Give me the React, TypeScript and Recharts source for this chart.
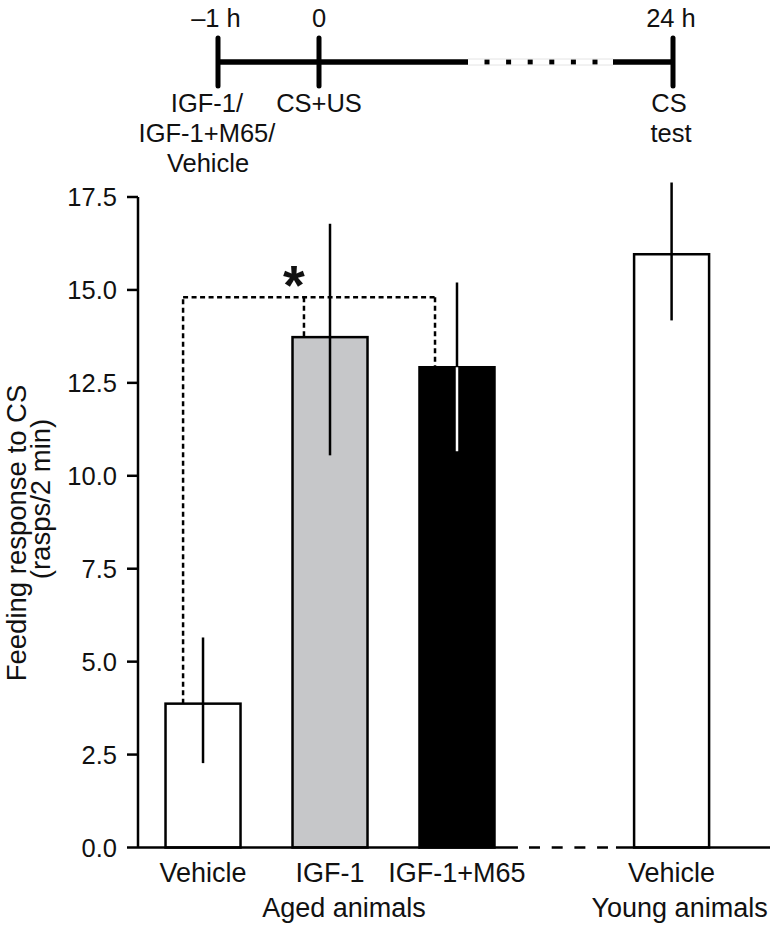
import React from 'react';
import { BarChart, Bar, XAxis, YAxis, ReferenceLine } from 'recharts';

// ---- data ----
const categories = ['Vehicle', 'IGF-1', 'IGF-1+M65', 'Vehicle'];
const groupLabels = ['', 'Aged animals', '', 'Young animals'];
const slots = [1, 2, 3, 4.69]; // category slots along the x axis (young group set apart)
const means = [3.87, 13.73, 12.92, 15.96];
const errLow = [2.27, 10.55, 10.66, 14.18];
const errHigh = [5.65, 16.78, 15.2, 17.89];
const yTicks = [0, 2.5, 5, 7.5, 10, 12.5, 15, 17.5];
const sigLevel = 14.8;

// ---- styles ----
const fills = ['#ffffff', '#c6c7c9', '#000000', '#ffffff'];
const FONT = '"Liberation Sans", Arial, Helvetica, sans-serif';
const X_MIN = 0.488;
const X_MAX = 5.465;

const data = categories.map((c, i) => ({
  pos: slots[i],
  name: c,
  value: means[i],
  lo: errLow[i],
  hi: errHigh[i],
}));

const BarShape = (props: any) => {
  const { x, y, width, height, payload, index } = props;
  const pxPer = height / payload.value;
  const base = y + height;
  const yHi = base - payload.hi * pxPer;
  const yLo = base - payload.lo * pxPer;
  const cx = x + width / 2;
  const fill = fills[index];
  const dark = fill === '#000000';
  return (
    <g>
      <rect x={x} y={y} width={width} height={height} fill={fill} stroke="#000" strokeWidth={2.5} />
      <line x1={cx} x2={cx} y1={yHi} y2={y} stroke="#000" strokeWidth={2.5} />
      <line x1={cx} x2={cx} y1={y} y2={yLo} stroke={dark ? '#fff' : '#000'} strokeWidth={2.5} />
    </g>
  );
};

const XTick = (props: any) => {
  const { x, y, payload } = props;
  const i = slots.indexOf(payload.value);
  if (i < 0) return null;
  const gOff = i === 1 ? 14 : 8;
  return (
    <g>
      <text x={x} y={y + 34.5} textAnchor="middle" fontSize={27} fontFamily={FONT} fill="#111">
        {categories[i]}
      </text>
      {groupLabels[i] ? (
        <text x={x + gOff} y={y + 69.5} textAnchor="middle" fontSize={27} fontFamily={FONT} fill="#111">
          {groupLabels[i]}
        </text>
      ) : null}
    </g>
  );
};

const dash = '5 3.5';
const lineW = 2.5;

export default function App() {
  return (
    <div style={{ position: 'absolute', left: 0, top: 0, width: 770, height: 925, background: '#fff' }}>
      <BarChart
        width={770}
        height={925}
        data={data}
        margin={{ top: 197, right: 0, bottom: 17.5, left: 0 }}
      >
        <XAxis
          type="number"
          dataKey="pos"
          domain={[X_MIN, X_MAX]}
          ticks={slots}
          height={60}
          axisLine={false}
          tickLine={false}
          tickSize={0}
          tickMargin={0}
          tick={<XTick />}
          interval={0}
        />
        <YAxis
          type="number"
          domain={[0, 17.5]}
          ticks={yTicks}
          tickFormatter={(v: number) => v.toFixed(1)}
          width={138}
          tickSize={11}
          tickMargin={10}
          axisLine={{ stroke: '#000', strokeWidth: lineW }}
          tickLine={{ stroke: '#000', strokeWidth: lineW }}
          tick={{ fill: '#111', fontSize: 25.5, fontFamily: FONT }}
          interval={0}
        />
        <Bar dataKey="value" barSize={75} shape={<BarShape />} isAnimationActive={false} />
        {/* x axis with break */}
        <ReferenceLine
          segment={[{ x: X_MIN, y: 0 }, { x: 3.48, y: 0 }]}
          stroke="#000"
          strokeWidth={lineW}
        />
        <ReferenceLine
          segment={[{ x: 3.567, y: 0 }, { x: 4.189, y: 0 }]}
          stroke="#000"
          strokeWidth={lineW}
          strokeDasharray="11 11.7"
        />
        <ReferenceLine
          segment={[{ x: 4.252, y: 0 }, { x: X_MAX, y: 0 }]}
          stroke="#000"
          strokeWidth={lineW}
        />
        {/* significance bracket */}
        <ReferenceLine
          segment={[{ x: slots[0] - 0.157, y: means[0] }, { x: slots[0] - 0.157, y: sigLevel }]}
          stroke="#000"
          strokeWidth={lineW}
          strokeDasharray={dash}
        />
        <ReferenceLine
          segment={[{ x: slots[0] - 0.157, y: sigLevel }, { x: slots[2] - 0.173, y: sigLevel }]}
          stroke="#000"
          strokeWidth={lineW}
          strokeDasharray={dash}
        />
        <ReferenceLine
          segment={[{ x: slots[1] - 0.205, y: sigLevel }, { x: slots[1] - 0.205, y: means[1] }]}
          stroke="#000"
          strokeWidth={lineW}
          strokeDasharray={dash}
        />
        <ReferenceLine
          segment={[{ x: slots[2] - 0.173, y: sigLevel }, { x: slots[2] - 0.173, y: means[2] }]}
          stroke="#000"
          strokeWidth={lineW}
          strokeDasharray={dash}
        />
      </BarChart>

      <svg
        width={770}
        height={925}
        style={{ position: 'absolute', left: 0, top: 0, pointerEvents: 'none' }}
        fontFamily={FONT}
        fill="#111"
      >
        {/* timeline */}
        <line x1={218} x2={468} y1={62} y2={62} stroke="#000" strokeWidth={5.5} />
        <line x1={613} x2={673} y1={62} y2={62} stroke="#000" strokeWidth={5.5} />
        <line x1={484.5} x2={597.5} y1={62} y2={62} stroke="#000" strokeWidth={5.5} strokeDasharray="5 16.6" />
        <line x1={468} x2={613} y1={59} y2={59} stroke="#e4e4e4" strokeWidth={1} />
        <line x1={468} x2={613} y1={65} y2={65} stroke="#e4e4e4" strokeWidth={1} />
        <line x1={218} x2={218} y1={38} y2={86} stroke="#000" strokeWidth={5} strokeLinecap="round" />
        <line x1={319} x2={319} y1={38} y2={86} stroke="#000" strokeWidth={5} strokeLinecap="round" />
        <line x1={673} x2={673} y1={38} y2={86} stroke="#000" strokeWidth={5} strokeLinecap="round" />
        <text x={216} y={27} textAnchor="middle" fontSize={25.5}>–1 h</text>
        <text x={319} y={27} textAnchor="middle" fontSize={25.5}>0</text>
        <text x={671} y={27} textAnchor="middle" fontSize={25.5}>24 h</text>
        <text x={207} y={112} textAnchor="middle" fontSize={25.5}>IGF-1/</text>
        <text x={207} y={142} textAnchor="middle" fontSize={25.5}>IGF-1+M65/</text>
        <text x={208} y={171.5} textAnchor="middle" fontSize={25.5}>Vehicle</text>
        <text x={319} y={112} textAnchor="middle" fontSize={25.5}>CS+US</text>
        <text x={669} y={112} textAnchor="middle" fontSize={25.5}>CS</text>
        <text x={671} y={142} textAnchor="middle" fontSize={25.5}>test</text>

        {/* y-axis title */}
        <text transform="translate(26,533) rotate(-90)" textAnchor="middle" fontSize={27.5}>
          Feeding response to CS
        </text>
        <text transform="translate(50,499) rotate(-90)" textAnchor="middle" fontSize={27.5}>
          (rasps/2 min)
        </text>

        {/* significance star */}
        <text x={294} y={304} textAnchor="middle" fontSize={56} fontWeight="bold">*</text>
      </svg>
    </div>
  );
}
